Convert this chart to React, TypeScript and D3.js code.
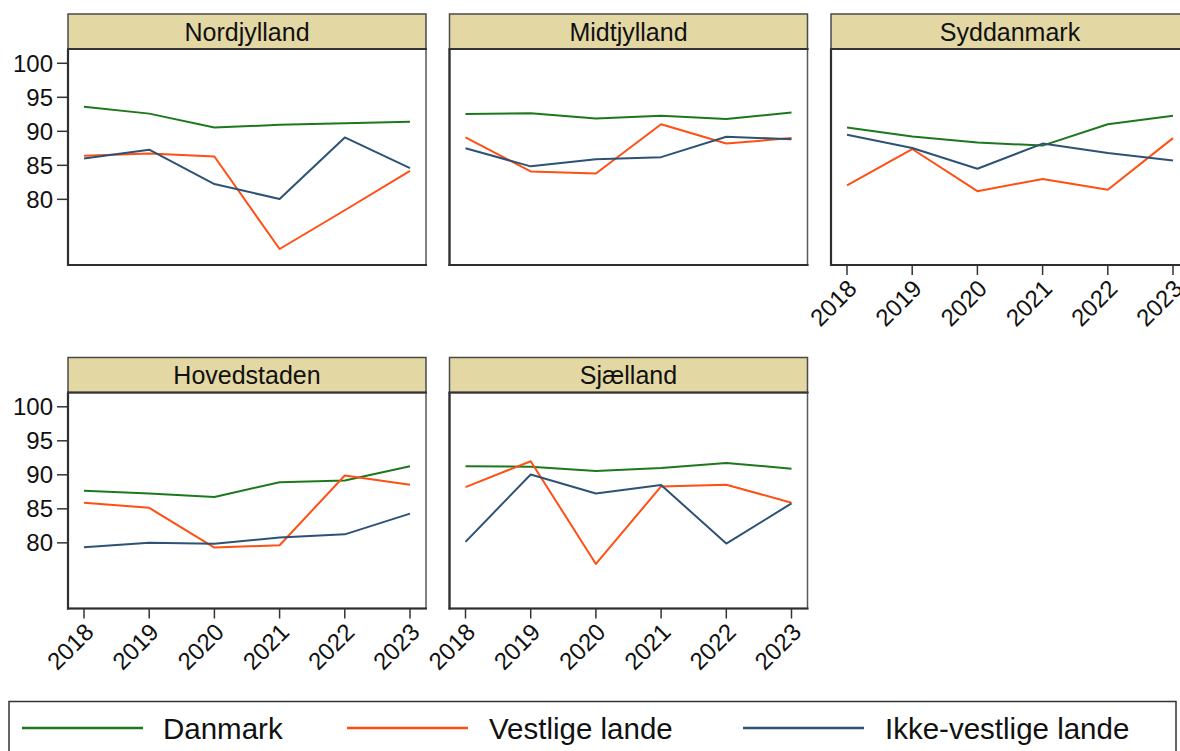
import React from "react";
import * as d3 from "d3";

// Years on the x axis
const years = [2018, 2019, 2020, 2021, 2022, 2023];

// Regions, in facet order (row by row)
const regions = ["Nordjylland", "Midtjylland", "Syddanmark", "Hovedstaden", "Sjælland"];

// Series values, one row per region (same order as `regions`)
const danmark = [
  [93.6, 92.6, 90.55, 90.95, 91.2, 91.4],
  [92.55, 92.65, 91.9, 92.3, 91.8, 92.75],
  [90.55, 89.25, 88.35, 87.9, 91.05, 92.3],
  [87.65, 87.25, 86.75, 88.9, 89.15, 91.25],
  [91.25, 91.2, 90.55, 91.0, 91.75, 90.9],
];

const vestlige = [
  [86.4, 86.75, 86.3, 72.7, 78.4, 84.2],
  [89.1, 84.1, 83.8, 91.05, 88.2, 89.0],
  [82.05, 87.4, 81.2, 83.0, 81.4, 89.0],
  [85.9, 85.15, 79.3, 79.65, 89.9, 88.55],
  [88.2, 92.0, 76.9, 88.3, 88.55, 85.9],
];

const ikkeVestlige = [
  [86.0, 87.3, 82.25, 80.05, 89.1, 84.6],
  [87.5, 84.85, 85.9, 86.2, 89.2, 88.85],
  [89.5, 87.55, 84.5, 88.2, 86.8, 85.7],
  [79.35, 80.0, 79.85, 80.8, 81.25, 84.3],
  [80.15, 90.05, 87.25, 88.5, 79.9, 85.8],
];

// Y axis tick values
const yTicks = [80, 85, 90, 95, 100];

// Legend entries
const seriesNames = ["Danmark", "Vestlige lande", "Ikke-vestlige lande"];
const seriesColors = ["#1d781d", "#ff4f12", "#2d5276"];

const FONT = "Arial, 'Liberation Sans', Helvetica, sans-serif";

const W = 1180;
const H = 751;
const colLefts = [68, 449.5, 831];
const rowTops = [14, 357.5];
const panelW = 358;
const headerH = 35;
const plotH = 216;

function Panel({ idx }: { idx: number }) {
  const col = idx % 3;
  const row = Math.floor(idx / 3);
  const left = colLefts[col];
  const right = left + panelW;
  const headTop = rowTops[row];
  const plotTop = headTop + headerH;
  const plotBottom = plotTop + plotH;

  const x = d3.scaleLinear().domain([2018, 2023]).range([left + 16, right - 16]);
  const y = d3.scaleLinear().domain([70.35, 102.1]).range([plotBottom, plotTop]);

  const line = d3
    .line<number>()
    .x((_, i) => x(years[i]))
    .y((v) => y(v));

  const showY = col === 0;
  const showX = idx + 3 >= regions.length;
  const series = [danmark[idx], vestlige[idx], ikkeVestlige[idx]];

  return (
    <g>
      {/* plot frame */}
      <rect x={left} y={plotTop} width={panelW} height={plotH} fill="#fff" stroke="#5a5a5a" strokeWidth={1.5} />
      {/* strong left and bottom axis lines */}
      <line x1={left} x2={left} y1={plotTop} y2={plotBottom + 1} stroke="#2e2e2e" strokeWidth={2.2} />
      <line x1={left - 1} x2={right + 1} y1={plotBottom} y2={plotBottom} stroke="#2e2e2e" strokeWidth={2.2} />

      {series.map((vals, s) => (
        <path key={s} d={line(vals) || ""} fill="none" stroke={seriesColors[s]} strokeWidth={2} strokeLinejoin="round" />
      ))}

      {/* header strip */}
      <rect x={left} y={headTop} width={panelW} height={headerH} fill="#e3d8a4" stroke="#4a4a4a" strokeWidth={1.5} />
      <line x1={left - 1} x2={right + 1} y1={plotTop} y2={plotTop} stroke="#333" strokeWidth={2.2} />
      <text x={(left + right) / 2} y={headTop + headerH / 2} dy="0.36em" textAnchor="middle" fontFamily={FONT} fontSize={25} fill="#111">
        {regions[idx]}
      </text>

      {showY &&
        yTicks.map((t) => (
          <g key={t}>
            <line x1={left - 11} x2={left} y1={y(t)} y2={y(t)} stroke="#333" strokeWidth={1.5} />
            <text x={left - 15} y={y(t)} dy="0.36em" textAnchor="end" fontFamily={FONT} fontSize={24} fill="#111">
              {t}
            </text>
          </g>
        ))}

      {showX &&
        years.map((yr) => (
          <g key={yr}>
            <line x1={x(yr)} x2={x(yr)} y1={plotBottom} y2={plotBottom + 10} stroke="#333" strokeWidth={1.5} />
            <text
              transform={`translate(${x(yr) + 5},${plotBottom + 19}) rotate(-45)`}
              dy="0.36em"
              textAnchor="end"
              fontFamily={FONT}
              fontSize={24}
              fill="#111"
            >
              {yr}
            </text>
          </g>
        ))}
    </g>
  );
}

export default function App() {
  const legendLineX = [22, 347, 743];
  const legendTextX = [163, 489, 885];
  const legendY = 728;
  return (
    <svg width={W} height={H} style={{ position: "absolute", left: 0, top: 0, background: "#fff" }}>
      <rect x={0} y={0} width={W} height={H} fill="#fff" />
      {regions.map((_, i) => (
        <Panel key={i} idx={i} />
      ))}
      {/* legend */}
      <rect x={9} y={701.5} width={1167} height={70} fill="#fff" stroke="#333" strokeWidth={1.5} />
      {seriesNames.map((name, i) => (
        <g key={name}>
          <line x1={legendLineX[i]} x2={legendLineX[i] + 121} y1={legendY} y2={legendY} stroke={seriesColors[i]} strokeWidth={2.5} />
          <text x={legendTextX[i]} y={legendY} dy="0.36em" fontFamily={FONT} fontSize={29.5} fill="#111">
            {name}
          </text>
        </g>
      ))}
    </svg>
  );
}
